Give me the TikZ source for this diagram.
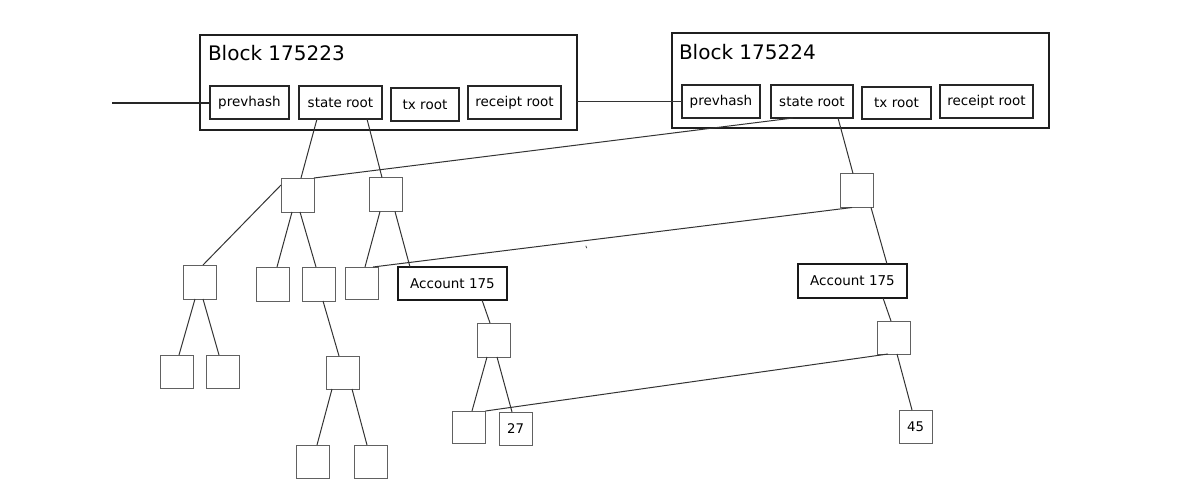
\documentclass[tikz,border=0pt]{standalone}
\usepackage{fontspec}
\setmainfont{DejaVu Sans}
\begin{document}
\begin{tikzpicture}[x=1pt,y=-1pt,
  every node/.style={inner sep=0pt,outer sep=0pt},
  blockbox/.style={draw=black!88,line width=2pt,rectangle},
  fieldbox/.style={draw=black!85,line width=1.2pt,rectangle,minimum height=33pt,
    font=\fontsize{13.5}{16}\selectfont},
  hashbox/.style={draw=black!62,line width=1pt,rectangle,minimum width=33pt,minimum height=34pt,
    font=\fontsize{13.3}{16}\selectfont},
  accbox/.style={draw=black!90,line width=1.8pt,rectangle,minimum width=109pt,minimum height=33pt,
    font=\fontsize{13.5}{16}\selectfont},
  titletext/.style={anchor=base west,font=\fontsize{20}{24}\selectfont},
  link/.style={draw=black!80,line width=1pt}]
\useasboundingbox (0,0) rectangle (1194,498);

% block headers
\node[blockbox,minimum width=377pt,minimum height=95pt] (blk1) at (388.5,82.5) {};
\node[titletext] (t1) at (208,60) {Block 175223};
\node[fieldbox,minimum width=79pt] (prev1) at (249.5,102.5) {prevhash};
\node[fieldbox,minimum width=83pt] (sr1) at (340.5,102.5) {state root};
\node[fieldbox,minimum width=68pt] (tx1) at (425,104.5) {tx root};
\node[fieldbox,minimum width=93pt] (rr1) at (514.5,102.5) {receipt root};

\node[blockbox,minimum width=377pt,minimum height=95pt] (blk2) at (860.5,80.5) {};
\node[titletext] (t2) at (679,59) {Block 175224};
\node[fieldbox,minimum width=78pt] (prev2) at (721,101.5) {prevhash};
\node[fieldbox,minimum width=82pt] (sr2) at (812,101.5) {state root};
\node[fieldbox,minimum width=69pt,minimum height=32pt] (tx2) at (896.5,103) {tx root};
\node[fieldbox,minimum width=93pt] (rr2) at (986.5,101.5) {receipt root};

% trie nodes
\node[hashbox] (A) at (297.5,195) {};
\node[hashbox] (B) at (385.5,194.5) {};
\node[hashbox] (G) at (856.5,190.5) {};
\node[hashbox] (C) at (200,282) {};
\node[hashbox] (D) at (273,284) {};
\node[hashbox] (E) at (319,284) {};
\node[hashbox,minimum height=32pt] (F) at (361.5,283) {};
\node[accbox] (acc1) at (452.5,283.5) {Account 175};
\node[accbox,minimum height=34pt] (acc2) at (852.5,281) {Account 175};
\node[hashbox,minimum height=33pt] (C1) at (176.5,371.5) {};
\node[hashbox,minimum height=33pt] (C2) at (222.5,371.5) {};
\node[hashbox,minimum height=33pt] (E1) at (342.5,372.5) {};
\node[hashbox,minimum height=33pt] (E11) at (313,461.5) {};
\node[hashbox,minimum height=33pt] (E12) at (370.5,461.5) {};
\node[hashbox] (I) at (493.5,340) {};
\node[hashbox,minimum height=32pt] (I1) at (469,427) {};
\node[hashbox,minimum height=33pt] (n27) at (515.5,428.5) {27};
\node[hashbox,minimum height=33pt] (H) at (894,337.5) {};
\node[hashbox,minimum height=33pt] (n45) at (915.5,426.5) {45};

% chain links
\coordinate (inlet) at (112,103);
\draw[draw=black!85,line width=2pt] (inlet) -- (prev1.west |- inlet);
\draw[link] (blk1.east |- prev2.west) -- (prev2.west);

% block 175223 state trie
\draw[link] ([xshift=-23.5pt]sr1.south) -- ([xshift=3.5pt]A.north);
\draw[link] ([xshift=26.5pt]sr1.south) -- ([xshift=-3.5pt]B.north);
\draw[link] ([yshift=10pt]A.west) -- ([xshift=3pt]C.north);
\draw[link] ([xshift=-5.5pt]A.south) -- ([xshift=4pt]D.north);
\draw[link] ([xshift=2.5pt]A.south) -- ([xshift=-3pt]E.north);
\draw[link] ([xshift=-5.5pt]B.south) -- ([xshift=3.5pt]F.north);
\draw[link] ([xshift=9.5pt]B.south) -- ([xshift=12pt]acc1.north west);
\draw[link] ([xshift=-5pt]C.south) -- ([xshift=2.5pt]C1.north);
\draw[link] ([xshift=3pt]C.south) -- ([xshift=-3.5pt]C2.north);
\draw[link] ([xshift=4pt]E.south) -- ([xshift=-3.5pt]E1.north);
\draw[link] ([xshift=-10.5pt]E1.south) -- ([xshift=4pt]E11.north);
\draw[link] ([xshift=9.5pt]E1.south) -- ([xshift=-3.5pt]E12.north);
\draw[link] ([xshift=29.5pt]acc1.south) -- ([xshift=-3.5pt]I.north);
\draw[link] ([xshift=-6.5pt]I.south) -- ([xshift=3pt]I1.north);
\draw[link] ([xshift=3.5pt]I.south) -- ([xshift=-3.5pt]n27.north);

% block 175224 state trie, sharing unchanged subtrees
\draw[link] ([xshift=-19pt]sr2.south) -- (A.north east);
\draw[link] ([xshift=26pt]sr2.south) -- ([xshift=-3.5pt]G.north);
\draw[link] ([xshift=-4.5pt]G.south) -- ([xshift=-5pt]F.north east);
\draw[link] ([xshift=14.5pt]G.south) -- ([xshift=34.5pt]acc2.north);
\draw[link] ([xshift=30.5pt]acc2.south) -- ([xshift=-3pt]H.north);
\draw[link] ([xshift=-6pt]H.south) -- (I1.north east);
\draw[link] ([xshift=3pt]H.south) -- ([xshift=-3.5pt]n45.north);

% small stray stroke
\draw[draw=black!70,line width=0.8pt] (585.8,245.8) -- (586.8,248.2);
\end{tikzpicture}
\end{document}
